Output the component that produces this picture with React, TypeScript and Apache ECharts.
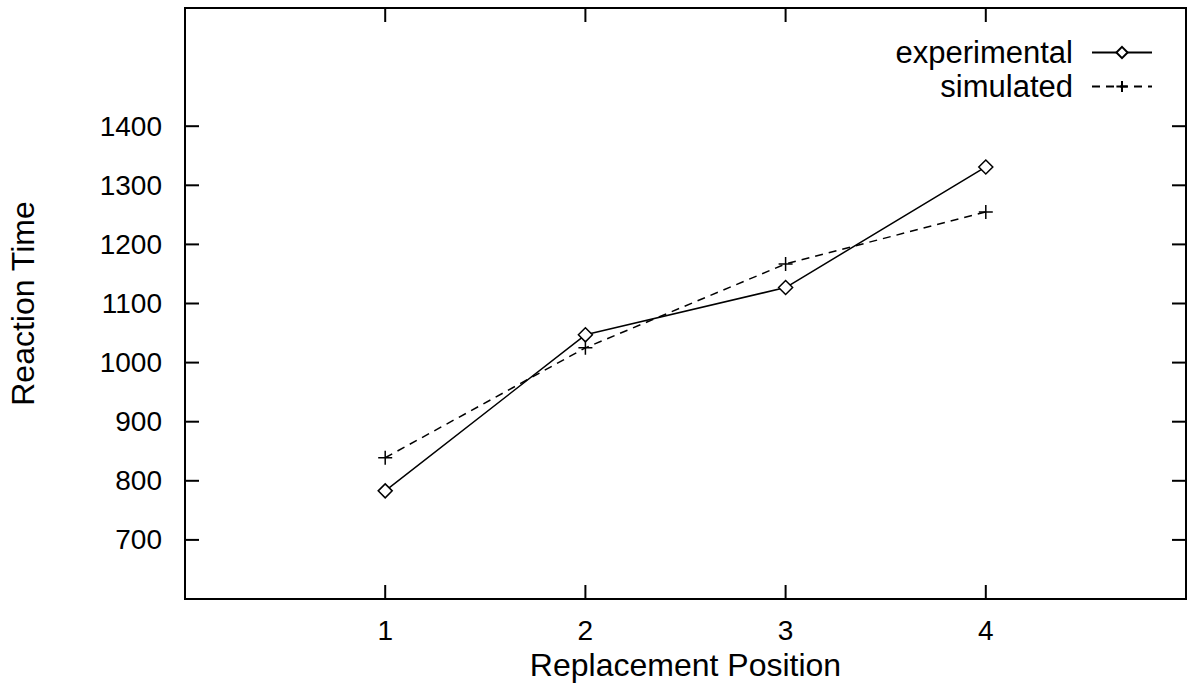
import React, { useEffect, useRef } from "react";
import * as echarts from "echarts";

const positions = [1, 2, 3, 4];
const experimental = [783, 1047, 1127, 1331];
const simulated = [839, 1025, 1167, 1255];
const yTickValues = [700, 800, 900, 1000, 1100, 1200, 1300, 1400];
const xTickValues = [1, 2, 3, 4];

const FONT = "'Liberation Sans', Arial, sans-serif";
const X_MIN = 0, X_MAX = 5, Y_MIN = 600, Y_MAX = 1600;
const TICK = 14;

export default function App() {
  const ref = useRef<HTMLDivElement>(null);
  useEffect(() => {
    const chart = echarts.init(ref.current!, null, { renderer: "svg" });
    const tickStyle = { stroke: "#000", lineWidth: 2 };
    chart.setOption({
      animation: false,
      backgroundColor: "#fff",
      textStyle: { fontFamily: FONT },
      grid: {
        left: 185, right: 2, top: 8, bottom: 88, containLabel: false, outerBoundsMode: "none",
        show: true, borderColor: "#000", borderWidth: 2, backgroundColor: "transparent",
      },
      legend: {
        orient: "vertical",
        right: 30,
        top: 32,
        align: "right",
        itemWidth: 60,
        itemHeight: 14,
        itemGap: 3,
        textStyle: { fontSize: 31, color: "#000", fontFamily: FONT, padding: [0, 14, 0, 0] },
        data: ["experimental", "simulated"],
      },
      xAxis: {
        type: "value",
        min: X_MIN,
        max: X_MAX,
        interval: 1,
        name: "Replacement Position",
        nameLocation: "middle",
        nameGap: 46,
        nameTextStyle: { fontSize: 32, color: "#000", fontFamily: FONT },
        axisLine: { show: true, onZero: false, lineStyle: { color: "#000", width: 2 } },
        axisTick: { show: false },
        axisLabel: { customValues: xTickValues, fontSize: 28, color: "#000", margin: 17, fontFamily: FONT },
        splitLine: { show: false },
      },
      yAxis: {
        type: "value",
        min: Y_MIN,
        max: Y_MAX,
        interval: 100,
        name: "Reaction Time",
        nameLocation: "middle",
        nameGap: 146,
        nameTextStyle: { fontSize: 32, color: "#000", fontFamily: FONT },
        axisLine: { show: true, onZero: false, lineStyle: { color: "#000", width: 2 } },
        axisTick: { show: false },
        axisLabel: {
          customValues: yTickValues,
          fontSize: 28,
          color: "#000",
          margin: 23,
          fontFamily: FONT,
          formatter: (v: number) => String(v),
        },
        splitLine: { show: false },
      },
      series: [
        {
          name: "experimental",
          type: "line",
          data: positions.map((p, i) => [p, experimental[i]]),
          symbol: "diamond",
          symbolSize: 14,
          showAllSymbol: true,
          lineStyle: { color: "#000", width: 1.5, type: "solid" },
          itemStyle: { color: "#fff", borderColor: "#000", borderWidth: 1.5 },
        },
        {
          name: "simulated",
          type: "line",
          data: positions.map((p, i) => [p, simulated[i]]),
          symbol: "path://M7,0 L7,14 M0,7 L14,7",
          symbolSize: 14,
          showAllSymbol: true,
          lineStyle: { color: "#000", width: 1.5, type: [8, 6] },
          itemStyle: { color: "none", borderColor: "#000", borderWidth: 1.5 },
        },
        {
          name: "yTicks",
          type: "custom",
          silent: true,
          clip: false,
          data: yTickValues.map((v) => [X_MIN, v]),
          renderItem: (params: any, api: any) => {
            const v = api.value(1);
            const a = api.coord([X_MIN, v]);
            const b = api.coord([X_MAX, v]);
            return {
              type: "group",
              children: [
                { type: "line", shape: { x1: a[0], y1: a[1], x2: a[0] + TICK, y2: a[1] }, style: tickStyle },
                { type: "line", shape: { x1: b[0], y1: b[1], x2: b[0] - TICK, y2: b[1] }, style: tickStyle },
              ],
            };
          },
        },
        {
          name: "xTicks",
          type: "custom",
          silent: true,
          clip: false,
          data: xTickValues.map((v) => [v, Y_MIN]),
          renderItem: (params: any, api: any) => {
            const v = api.value(0);
            const a = api.coord([v, Y_MIN]);
            const b = api.coord([v, Y_MAX]);
            return {
              type: "group",
              children: [
                { type: "line", shape: { x1: a[0], y1: a[1], x2: a[0], y2: a[1] - TICK }, style: tickStyle },
                { type: "line", shape: { x1: b[0], y1: b[1], x2: b[0], y2: b[1] + TICK }, style: tickStyle },
              ],
            };
          },
        },
      ],
    });
    return () => chart.dispose();
  }, []);
  return <div ref={ref} style={{ width: 1188, height: 687, position: "absolute", left: 0, top: 0 }} />;
}
